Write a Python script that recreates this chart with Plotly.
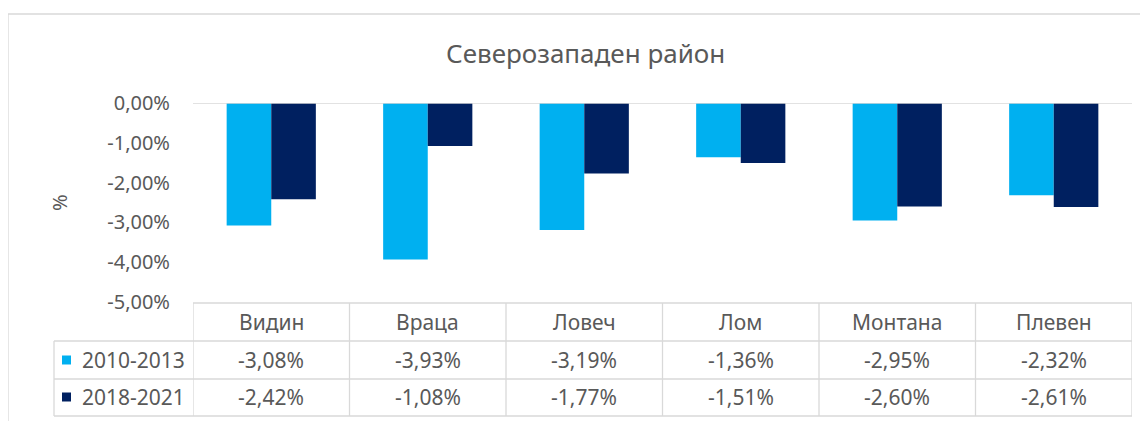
import plotly.graph_objects as go

categories = ["Видин", "Враца", "Ловеч", "Лом", "Монтана", "Плевен"]
series_names = ["2010-2013", "2018-2021"]
values_2010_2013 = [-3.08, -3.93, -3.19, -1.36, -2.95, -2.32]
values_2018_2021 = [-2.42, -1.08, -1.77, -1.51, -2.60, -2.61]
tick_values = [0, -1, -2, -3, -4, -5]
title_text = "Северозападен район"
y_title = "%"

colors = ["#00B0F0", "#002060"]
series_values = [values_2010_2013, values_2018_2021]

W, H = 1148, 421
OFF = 8  # page body margin
FONT = "Noto Sans"
TXT = "#595959"
GRID = "#d9d9d9"


def px(x):
    return (x - OFF) / W


def py(y):
    return 1 - (y - OFF) / H


def fmt(v):
    return f"{v:.2f}%".replace(".", ",")


fig = go.Figure()
for name, vals, col in zip(series_names, series_values, colors):
    fig.add_trace(go.Bar(x=categories, y=vals, name=name, marker_color=col,
                         marker_line_width=0, showlegend=False, hoverinfo="skip"))

shapes = []
annotations = []
LW = 1.3

# outer chart border
shapes.append(dict(type="rect", xref="paper", yref="paper",
                   x0=px(8), x1=px(1190), y0=py(460), y1=py(14),
                   line=dict(color=GRID, width=LW), fillcolor="rgba(0,0,0,0)"))

# zero axis line
n = len(categories)
shapes.append(dict(type="line", xref="x", yref="y", x0=-0.5, x1=n - 0.5,
                   y0=0, y1=0, line=dict(color=GRID, width=LW)))

# data table grid
row_tops = [303, 341, 379, 416]
shapes.append(dict(type="line", xref="x", yref="paper", x0=-0.5, x1=n - 0.5,
                   y0=py(row_tops[0]), y1=py(row_tops[0]), line=dict(color=GRID, width=LW)))
for yy in row_tops[1:]:
    shapes.append(dict(type="line", xref="paper", yref="paper", x0=px(54), x1=px(1132),
                       y0=py(yy), y1=py(yy), line=dict(color=GRID, width=LW)))
shapes.append(dict(type="line", xref="paper", yref="paper", x0=px(54), x1=px(54),
                   y0=py(341), y1=py(416), line=dict(color=GRID, width=LW)))
for i in range(n + 1):
    shapes.append(dict(type="line", xref="x", yref="paper", x0=i - 0.5, x1=i - 0.5,
                       y0=py(303), y1=py(416), line=dict(color=GRID, width=LW)))

TFS = 21
header_y = 322
row_ys = [360, 397]
for c in categories:
    annotations.append(dict(x=c, y=py(header_y), xref="x", yref="paper", text=c,
                            yanchor="middle", showarrow=False,
                            font=dict(family=FONT, size=TFS, color=TXT)))
for name, vals, col, ry in zip(series_names, series_values, colors, row_ys):
    shapes.append(dict(type="rect", xref="paper", yref="paper",
                       x0=px(62), x1=px(71), y0=py(ry + 4.5), y1=py(ry - 4.5),
                       fillcolor=col, line=dict(width=0)))
    annotations.append(dict(x=px(80), y=py(ry), xref="paper", yref="paper", text=name,
                            xanchor="left", yanchor="middle", showarrow=False,
                            font=dict(family=FONT, size=TFS, color=TXT)))
    for c, v in zip(categories, vals):
        annotations.append(dict(x=c, y=py(ry), xref="x", yref="paper", text=fmt(v),
                                yanchor="middle", showarrow=False,
                                font=dict(family=FONT, size=TFS, color=TXT)))

# title
annotations.append(dict(x=px(585), y=py(53), xref="paper", yref="paper", text=title_text,
                        xanchor="center", yanchor="middle", showarrow=False,
                        font=dict(family=FONT, size=26, color=TXT)))
# y axis title
annotations.append(dict(x=px(59), y=py(203), xref="paper", yref="paper", text=y_title,
                        xanchor="center", yanchor="middle", textangle=-90, showarrow=False,
                        font=dict(family=FONT, size=20, color=TXT)))

fig.update_layout(
    width=W, height=H, autosize=False,
    margin=dict(l=0, r=0, t=0, b=0, pad=0),
    paper_bgcolor="white", plot_bgcolor="white",
    barmode="group", bargap=0.43, bargroupgap=0,
    font=dict(family=FONT, color=TXT),
    xaxis=dict(domain=[px(193), px(1132)], showticklabels=False, showgrid=False,
               zeroline=False, showline=False, ticks="", range=[-0.5, n - 0.5],
               automargin=False),
    yaxis=dict(domain=[py(302), py(103)], range=[-5, 0], tickmode="array",
               tickvals=tick_values, ticktext=[fmt(v) for v in tick_values],
               showgrid=False, zeroline=False, showline=False, ticks="",
               ticklabelstandoff=22, automargin=False,
               tickfont=dict(family=FONT, size=20, color=TXT)),
    shapes=shapes, annotations=annotations,
)

fig.write_html("out.html")
